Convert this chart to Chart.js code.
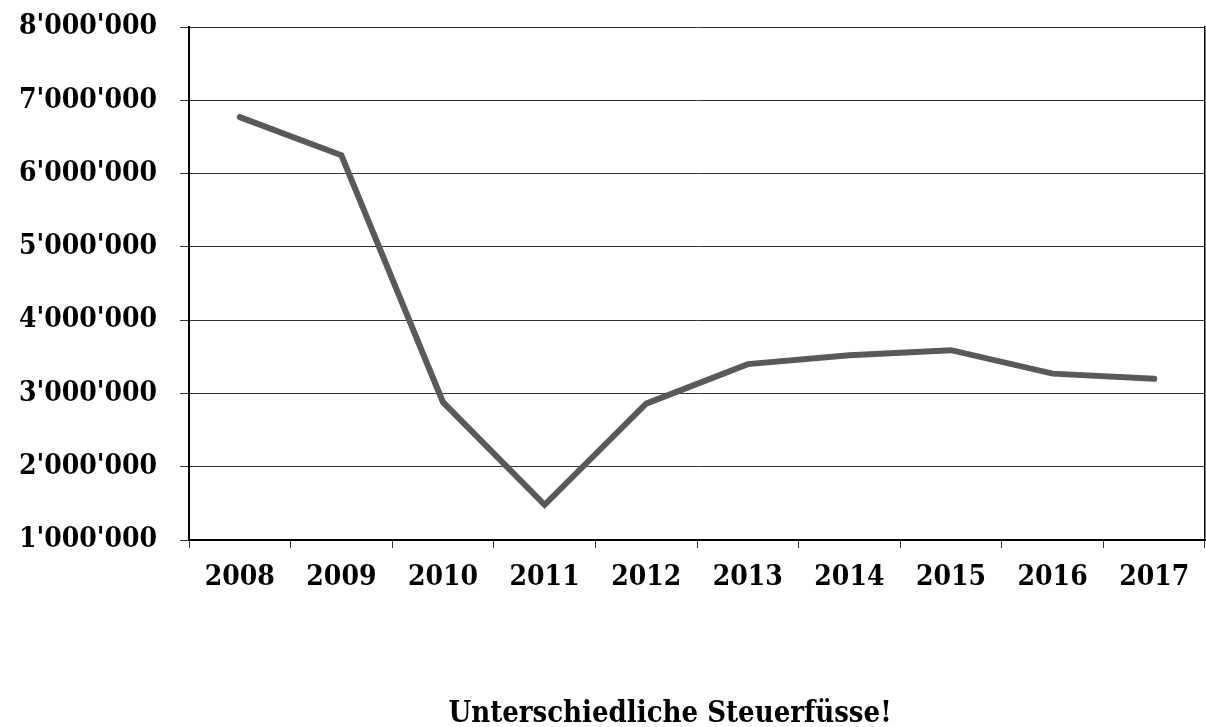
<!DOCTYPE html>
<html>
<head>
<meta charset="utf-8">
<title>Unterschiedliche Steuerfüsse!</title>
<script src="https://cdn.jsdelivr.net/npm/chart.js@4/dist/chart.umd.min.js"></script>
<style>
  html, body { margin: 0; padding: 0; background: #ffffff; }
  #wrap { width: 1206px; height: 727px; position: relative; }
</style>
</head>
<body>
<div id="wrap"><canvas id="chart" width="1206" height="727"></canvas></div>
<script>
// Jahre auf der x-Achse
const years = ['2008', '2009', '2010', '2011', '2012', '2013', '2014', '2015', '2016', '2017'];
// Werte pro Jahr
const amounts = [6770000, 6250000, 2880000, 1480000, 2860000, 3400000, 3520000, 3590000, 3270000, 3200000];
// Achsenbereich und Schrittweite der y-Achse
const yMin = 1000000;
const yMax = 8000000;
const yStep = 1000000;
const chartTitle = 'Unterschiedliche Steuerfüsse!';

const fontFamily = '"DejaVu Serif Condensed", "DejaVu Serif", serif';
const axisFont = { family: fontFamily, size: 28, weight: 'bold' };

// Tausendertrennzeichen als Apostroph: 8'000'000
function swissFormat(v) {
  return String(Math.round(v)).replace(/\B(?=(\d{3})+(?!\d))/g, "'");
}

// Titel unter der Grafik
const bottomTitle = {
  id: 'bottomTitle',
  afterDraw(chart) {
    const ctx = chart.ctx;
    ctx.save();
    ctx.font = 'bold 29px ' + fontFamily;
    ctx.fillStyle = '#000000';
    ctx.textAlign = 'center';
    ctx.textBaseline = 'alphabetic';
    ctx.fillText(chartTitle, 670, 722);
    ctx.restore();
  }
};

new Chart(document.getElementById('chart'), {
  type: 'line',
  data: {
    labels: years,
    datasets: [{
      data: amounts,
      borderColor: '#595959',
      borderWidth: 6,
      borderCapStyle: 'round',
      borderJoinStyle: 'miter',
      pointRadius: 0,
      tension: 0,
      fill: false
    }]
  },
  options: {
    responsive: false,
    animation: false,
    layout: { padding: { top: 27, right: 1, bottom: 0, left: 0 } },
    plugins: {
      legend: { display: false },
      tooltip: { enabled: false },
      title: { display: false }
    },
    scales: {
      x: {
        type: 'category',
        offset: true,
        grid: {
          offset: true,
          drawOnChartArea: false,
          drawTicks: true,
          tickLength: 8,
          color: '#333333',
          lineWidth: 1
        },
        border: { display: true, color: '#000000', width: 2 },
        ticks: {
          color: '#000000',
          font: axisFont,
          padding: 13,
          maxRotation: 0,
          autoSkip: false
        },
        afterFit(scale) { scale.height = 187; }
      },
      y: {
        min: yMin,
        max: yMax,
        grid: {
          color: '#333333',
          lineWidth: 1,
          drawTicks: true,
          tickLength: 9
        },
        border: { display: true, color: '#000000', width: 2 },
        ticks: {
          stepSize: yStep,
          color: '#000000',
          font: axisFont,
          padding: 23,
          callback: (v) => swissFormat(v)
        },
        afterFit(scale) {
          scale.width = 189;
          scale.paddingTop = 0;
          scale.paddingBottom = 0;
        }
      },
      yRight: {
        position: 'right',
        min: yMin,
        max: yMax,
        grid: {
          drawOnChartArea: false,
          drawTicks: false,
          color: 'rgba(0,0,0,0)'
        },
        border: { display: true, color: '#000000', width: 1.5 },
        ticks: { display: false }
      }
    }
  },
  plugins: [bottomTitle]
});
</script>
</body>
</html>
